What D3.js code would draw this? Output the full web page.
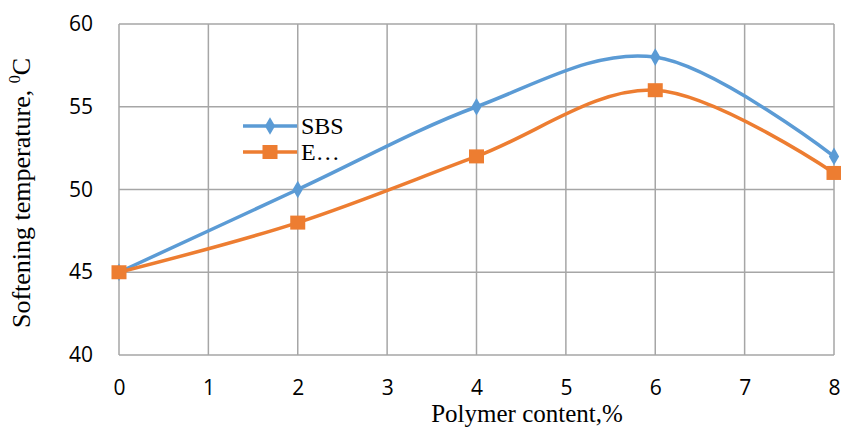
<!DOCTYPE html>
<html><head><meta charset="utf-8">
<script src="https://cdn.jsdelivr.net/npm/d3@7"></script>
<style>body{margin:0;background:#fff}</style>
</head><body>
<svg id="c" width="841" height="430"></svg>
<script>
const xValues = [0, 2, 4, 6, 8];
const sbsValues = [45, 50, 55, 58, 52];
const eValues = [45, 48, 52, 56, 51];
const seriesNames = ["SBS", "E…"];
const xTicks = [0,1,2,3,4,5,6,7,8];
const yTicks = [40,45,50,55,60];

const svg = d3.select("#c");
const x = d3.scaleLinear().domain([0,8]).range([119,834]);
const y = d3.scaleLinear().domain([40,60]).range([355,24]);
const grid = "#a6a6a6";
const serif = "'Liberation Serif', 'Times New Roman', serif";
const sans = "'Open Sans', 'Liberation Sans', sans-serif";

// gridlines
svg.append("g").selectAll("line").data(yTicks).join("line")
  .attr("x1", x(0)).attr("x2", x(8)).attr("y1", d=>y(d)).attr("y2", d=>y(d))
  .attr("stroke", grid).attr("stroke-width", 1.5);
svg.append("g").selectAll("line").data(xTicks).join("line")
  .attr("x1", d=>x(d)).attr("x2", d=>x(d)).attr("y1", y(40)).attr("y2", y(60))
  .attr("stroke", grid).attr("stroke-width", 1.5);

// axes labels via d3 axes
const xa = svg.append("g").attr("transform", `translate(0,${y(40)})`)
  .call(d3.axisBottom(x).tickValues(xTicks).tickSize(0).tickPadding(25).tickFormat(d3.format("d")));
xa.select(".domain").remove();
xa.selectAll("text").attr("font-family",sans).attr("font-size",21).attr("fill","#000");
const ya = svg.append("g").attr("transform", `translate(${x(0)},0)`)
  .call(d3.axisLeft(y).tickValues(yTicks).tickSize(0).tickPadding(26).tickFormat(d3.format("d")));
ya.select(".domain").remove();
ya.selectAll("text").attr("font-family",sans).attr("font-size",21).attr("fill","#000");

// axis titles
svg.append("text").attr("x", 527).attr("y", 422).attr("text-anchor","middle")
  .attr("font-family",serif).attr("font-size",25)
  .text("Polymer content,%");
const yt = svg.append("text").attr("transform","translate(30,193) rotate(-90)").attr("text-anchor","middle")
  .attr("font-family",serif).attr("font-size",26);
yt.append("tspan").text("Softening temperature, ");
yt.append("tspan").attr("font-size",16).attr("dy",-10).text("0");
yt.append("tspan").attr("dy",10).text("C");

const line = d3.line().x(d=>x(d[0])).y(d=>y(d[1])).curve(d3.curveCardinal.tension(0));
const series = [
  {name: seriesNames[0], vals: sbsValues, color: "#5B9BD5", shape: "diamond"},
  {name: seriesNames[1], vals: eValues, color: "#ED7D31", shape: "square"}
];
function marker(g, shape, color){
  if (shape==="diamond") g.append("path").attr("d", d3.symbol(d3.symbolDiamond, 90)()).attr("fill", color);
  else g.append("rect").attr("x",-7.5).attr("y",-7).attr("width",15).attr("height",14).attr("fill", color);
}
series.forEach(s=>{
  const pts = xValues.map((xv,i)=>[xv, s.vals[i]]);
  svg.append("path").attr("d", line(pts)).attr("fill","none").attr("stroke", s.color).attr("stroke-width",3.5);
  pts.forEach(p=>{
    const g = svg.append("g").attr("transform",`translate(${x(p[0])},${y(p[1])})`);
    marker(g, s.shape, s.color);
  });
});

// legend
series.forEach((s,i)=>{
  const ly = 126 + i*26;
  svg.append("line").attr("x1",243).attr("x2",297).attr("y1",ly).attr("y2",ly).attr("stroke",s.color).attr("stroke-width",3.5);
  const g = svg.append("g").attr("transform",`translate(270,${ly})`);
  marker(g, s.shape, s.color);
  svg.append("text").attr("x",301).attr("y",ly+8).attr("font-family",serif).attr("font-size",24).text(s.name);
});
</script>
</body></html>
